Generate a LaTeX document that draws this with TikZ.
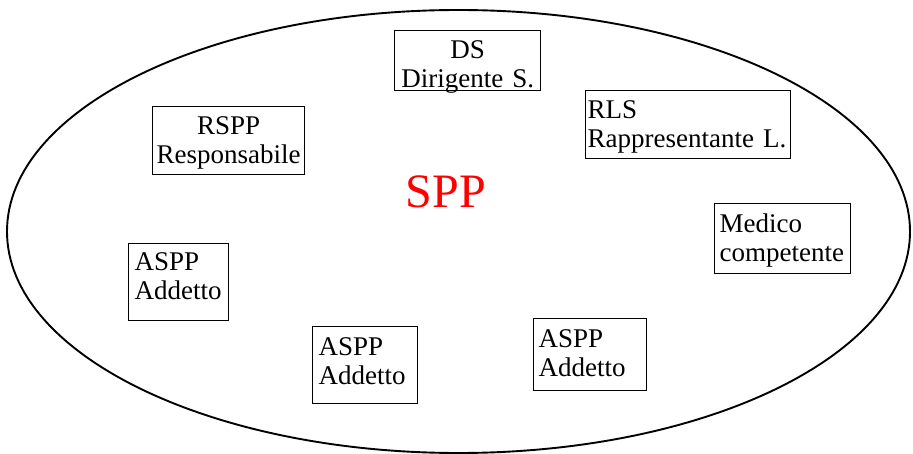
\documentclass[tikz,border=0pt]{standalone}
\usepackage{fontspec}
\setmainfont{Liberation Serif}

\begin{document}
\begin{tikzpicture}[x=1pt,y=-1pt,
  role/.style={draw,line width=1.4pt,inner ysep=0pt,anchor=north west,
    font=\fontsize{27}{29}\selectfont},
  mid role/.style={role,align=center,inner xsep=0pt},
  left role/.style={role,align=left}]
  \useasboundingbox (0,0) rectangle (913,454);
  \draw[line width=1.9pt] (458.5,231.5) ellipse [x radius=451.5, y radius=221.5];
  \node[text=red,anchor=base,font=\fontsize{48}{52}\selectfont] (spp) at (446,208) {SPP};
  \node[mid role,text width=146pt,text height=28pt,text depth=32pt] (ds) at (394,30) {DS\\Dirigente S.};
  \node[mid role,text width=152pt,text height=28pt,text depth=40pt] (rspp) at (152,106) {RSPP\\Responsabile};
  \node[left role,inner xsep=2pt,text width=201pt,text height=28pt,text depth=40pt] (rls) at (585,90) {RLS\\Rappresentante~L.};
  \node[left role,inner xsep=5pt,text width=126pt,text height=29pt,text depth=41pt] (mc) at (714,203) {Medico\\competente};
  \node[left role,inner xsep=6pt,text width=88pt,text height=27pt,text depth=50pt] (aspp1) at (128,243) {ASPP\\Addetto};
  \node[left role,inner xsep=6pt,text width=93pt,text height=29pt,text depth=48pt] (aspp2) at (312,326) {ASPP\\Addetto};
  \node[left role,inner xsep=5pt,text width=103pt,text height=29pt,text depth=43pt] (aspp3) at (533,318) {ASPP\\Addetto};
\end{tikzpicture}
\end{document}
